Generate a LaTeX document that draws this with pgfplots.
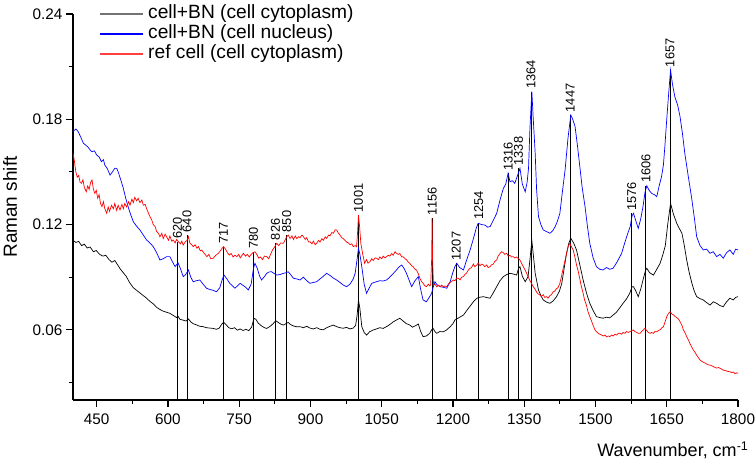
\documentclass[border=0pt]{standalone}
\usepackage{fontspec}
\setmainfont{Liberation Sans}
\usepackage{pgfplots}
\pgfplotsset{compat=1.18}
\begin{document}
\begin{tikzpicture}[x=1pt,y=1pt]
\path[use as bounding box] (-73,-62) rectangle (683,400);
\begin{axis}[
  at={(0,0)}, anchor=south west,
  scale only axis, width=665pt, height=386pt,
  xmin=400, xmax=1800, ymin=0.02, ymax=0.24,
  axis x line*=bottom, axis y line*=left,
  axis line style={-, line width=1.1pt},
  tick align=outside,
  major tick length=7pt, minor tick length=4pt,
  every tick/.style={black, line width=1.1pt},
  xtick={450,600,...,1800},
  minor xtick={525,675,...,1725},
  ytick={0.06,0.12,0.18,0.24},
  minor ytick={0.03,0.09,0.15,0.21},
  scaled y ticks=false,
  /pgf/number format/assume math mode=true,
  /pgf/number format/set thousands separator={},
  yticklabel style={/pgf/number format/.cd, fixed, fixed zerofill, precision=2},
  ticklabel style={font=\fontsize{15.3}{17}\selectfont},
  xticklabel style={yshift=-3pt},
  xlabel={Wavenumber, cm\textsuperscript{-1}},
  ylabel={Raman shift},
  every axis x label/.style={at={(axis description cs:1,0)}, anchor=east, xshift=14pt, yshift=-50pt, font=\fontsize{18}{20}\selectfont},
  every axis y label/.style={at={([xshift=-63pt]axis description cs:0,0.5)}, rotate=90, anchor=center, font=\fontsize{19}{22}\selectfont},
]
% drop lines with peak labels
\addplot[forget plot, black, line width=0.8pt, ycomb, mark=none,
  nodes near coords, point meta=explicit symbolic,
  every node near coord/.append style={rotate=90, anchor=west, inner sep=2.5pt, black, font=\fontsize{12.8}{15}\selectfont}]
coordinates {
(620,0.1102)[620] (640,0.1140)[640] (717,0.1074)[717] (780,0.1045)[780]
(826,0.1095)[826] (850,0.1140)[850] (1001,0.1254)[1001] (1156,0.1237)[1156]
(1207,0.0980)[1207] (1254,0.1210)[1254] (1316,0.1492)[1316] (1338,0.1521)[1338]
(1364,0.1957)[1364] (1447,0.1824)[1447] (1576,0.1264)[1576] (1606,0.1421)[1606]
(1657,0.2081)[1657]
};
% cell+BN (cell cytoplasm)
\addplot[forget plot, black, line width=0.7pt] table {
400 0.1110
406 0.1098
412 0.1104
418 0.1080
424 0.1088
430 0.1066
436 0.1072
443 0.1045
449 0.1052
456 0.1030
463 0.1020
469 0.1025
476 0.1000
482 0.0985
488 0.0995
494 0.0970
500 0.0945
506 0.0925
512 0.0905
519 0.0870
527 0.0840
534 0.0825
541 0.0810
548 0.0795
555 0.0780
562 0.0762
569 0.0748
576 0.0728
583 0.0716
590 0.0706
597 0.0700
604 0.0694
611 0.0682
618 0.0670
621 0.0678
625 0.0660
632 0.0655
638 0.0650
643 0.0662
648 0.0645
653 0.0635
660 0.0628
667 0.0620
674 0.0618
681 0.0612
688 0.0610
695 0.0608
702 0.0603
708 0.0610
713 0.0632
717 0.0643
722 0.0630
728 0.0612
734 0.0606
740 0.0612
746 0.0598
752 0.0605
758 0.0596
764 0.0603
770 0.0595
776 0.0615
781 0.0665
785 0.0660
790 0.0638
797 0.0622
803 0.0612
808 0.0608
815 0.0620
821 0.0634
827 0.0652
833 0.0640
838 0.0632
843 0.0627
849 0.0636
853 0.0642
858 0.0630
864 0.0622
870 0.0618
878 0.0618
885 0.0612
892 0.0620
899 0.0610
906 0.0605
913 0.0612
920 0.0603
927 0.0600
934 0.0612
941 0.0620
948 0.0627
955 0.0618
962 0.0612
969 0.0609
976 0.0614
983 0.0605
990 0.0610
995 0.0625
998 0.0680
1001 0.0770
1004 0.0720
1008 0.0618
1013 0.0585
1018 0.0570
1025 0.0590
1032 0.0599
1039 0.0605
1046 0.0612
1053 0.0608
1060 0.0618
1067 0.0630
1074 0.0645
1081 0.0656
1088 0.0666
1095 0.0650
1102 0.0635
1109 0.0627
1115 0.0615
1122 0.0625
1127 0.0633
1132 0.0590
1137 0.0561
1144 0.0565
1151 0.0580
1155 0.0600
1158 0.0609
1162 0.0590
1166 0.0580
1172 0.0590
1180 0.0589
1187 0.0600
1194 0.0618
1200 0.0635
1204 0.0656
1210 0.0665
1216 0.0675
1222 0.0684
1229 0.0710
1236 0.0735
1243 0.0760
1250 0.0780
1257 0.0786
1264 0.0789
1271 0.0784
1278 0.0780
1285 0.0812
1292 0.0846
1299 0.0880
1306 0.0903
1313 0.0915
1320 0.0922
1327 0.0918
1334 0.0912
1338 0.0950
1341 0.0960
1346 0.0905
1352 0.0874
1358 0.0903
1362 0.1000
1366 0.1108
1369 0.1030
1373 0.0922
1380 0.0827
1385 0.0795
1390 0.0770
1397 0.0758
1404 0.0751
1411 0.0765
1418 0.0789
1424 0.0820
1429 0.0865
1434 0.0950
1439 0.1036
1444 0.1095
1448 0.1122
1454 0.1095
1460 0.1055
1467 0.0970
1474 0.0884
1481 0.0810
1488 0.0751
1495 0.0710
1502 0.0675
1509 0.0670
1516 0.0666
1523 0.0672
1530 0.0668
1537 0.0684
1544 0.0700
1551 0.0725
1558 0.0751
1565 0.0775
1572 0.0808
1577 0.0846
1580 0.0846
1585 0.0820
1590 0.0789
1595 0.0830
1600 0.0884
1605 0.0935
1608 0.0951
1614 0.0925
1622 0.0912
1629 0.0945
1636 0.0979
1642 0.1030
1647 0.1080
1652 0.1200
1658 0.1321
1664 0.1260
1671 0.1207
1676 0.1180
1682 0.1150
1687 0.1080
1692 0.0998
1697 0.0930
1703 0.0865
1708 0.0820
1713 0.0789
1720 0.0778
1727 0.0770
1734 0.0755
1741 0.0741
1748 0.0760
1755 0.0751
1762 0.0738
1769 0.0732
1776 0.0760
1783 0.0780
1790 0.0770
1795 0.0785
1800 0.0789
};
% cell+BN (cell nucleus)
\addplot[forget plot, blue, line width=0.7pt] table {
400 0.1729
406 0.1745
411 0.1729
416 0.1700
422 0.1663
428 0.1650
432 0.1640
436 0.1625
440 0.1615
445 0.1620
450 0.1596
455 0.1585
460 0.1558
464 0.1570
467 0.1539
472 0.1520
478 0.1482
483 0.1500
488 0.1521
492 0.1520
495 0.1501
500 0.1460
506 0.1406
511 0.1350
516 0.1302
521 0.1260
527 0.1216
534 0.1190
541 0.1169
548 0.1140
555 0.1112
562 0.1095
569 0.1074
576 0.1040
583 0.0998
590 0.1005
597 0.1017
604 0.1017
609 0.0990
615 0.0960
621 0.0982
626 0.0950
632 0.0903
637 0.0915
643 0.0941
648 0.0900
653 0.0874
660 0.0880
667 0.0884
674 0.0860
681 0.0837
688 0.0830
695 0.0825
702 0.0817
709 0.0840
714 0.0885
718 0.0912
724 0.0890
730 0.0865
736 0.0850
741 0.0837
746 0.0850
752 0.0865
757 0.0855
762 0.0846
769 0.0827
775 0.0860
780 0.0950
783 0.0979
788 0.0950
793 0.0905
797 0.0884
802 0.0900
808 0.0922
813 0.0930
818 0.0931
824 0.0920
829 0.0912
836 0.0915
843 0.0922
848 0.0925
853 0.0931
858 0.0915
864 0.0894
871 0.0890
878 0.0884
885 0.0900
892 0.0880
899 0.0865
906 0.0870
913 0.0874
920 0.0890
927 0.0905
934 0.0922
941 0.0910
948 0.0895
955 0.0884
962 0.0870
969 0.0855
976 0.0846
983 0.0860
990 0.0890
994 0.0922
998 0.1000
1001 0.1065
1004 0.1030
1008 0.0960
1013 0.0860
1018 0.0808
1024 0.0840
1029 0.0865
1034 0.0870
1039 0.0874
1046 0.0880
1053 0.0878
1060 0.0884
1067 0.0900
1074 0.0920
1081 0.0941
1087 0.0960
1092 0.0969
1097 0.0950
1102 0.0922
1108 0.0880
1113 0.0846
1120 0.0880
1127 0.0903
1132 0.0830
1137 0.0770
1144 0.0760
1150 0.0785
1155 0.0808
1158 0.0840
1162 0.0874
1167 0.0855
1173 0.0846
1180 0.0842
1187 0.0837
1194 0.0874
1200 0.0930
1204 0.0960
1208 0.0979
1214 0.0955
1222 0.0941
1229 0.1000
1236 0.1055
1243 0.1120
1249 0.1180
1253 0.1207
1260 0.1200
1267 0.1197
1273 0.1185
1278 0.1188
1285 0.1225
1292 0.1264
1299 0.1340
1306 0.1406
1311 0.1430
1316 0.1492
1320 0.1444
1325 0.1450
1330 0.1435
1336 0.1480
1341 0.1521
1346 0.1430
1352 0.1387
1356 0.1440
1359 0.1520
1362 0.1750
1366 0.1957
1369 0.1800
1373 0.1606
1376 0.1400
1380 0.1245
1385 0.1200
1390 0.1169
1397 0.1160
1404 0.1150
1410 0.1165
1415 0.1188
1420 0.1220
1425 0.1264
1430 0.1380
1436 0.1511
1442 0.1690
1448 0.1824
1452 0.1800
1457 0.1758
1462 0.1650
1467 0.1530
1472 0.1410
1478 0.1302
1483 0.1190
1488 0.1093
1495 0.1010
1502 0.0960
1509 0.0945
1516 0.0941
1523 0.0955
1530 0.0945
1537 0.0951
1544 0.0980
1550 0.1010
1555 0.1036
1562 0.1100
1568 0.1150
1573 0.1188
1577 0.1250
1580 0.1264
1585 0.1220
1590 0.1178
1595 0.1230
1600 0.1302
1604 0.1380
1608 0.1421
1613 0.1395
1618 0.1378
1624 0.1370
1629 0.1359
1634 0.1420
1639 0.1473
1643 0.1540
1646 0.1644
1650 0.1800
1653 0.1910
1658 0.2081
1662 0.2000
1667 0.1929
1673 0.1880
1678 0.1815
1683 0.1720
1688 0.1606
1695 0.1480
1702 0.1359
1708 0.1240
1713 0.1131
1720 0.1080
1727 0.1055
1734 0.1060
1741 0.1036
1748 0.1045
1755 0.1017
1762 0.1030
1769 0.1008
1776 0.1040
1783 0.1055
1790 0.1030
1795 0.1060
1800 0.1055
};
% ref cell (cell cytoplasm)
\addplot[forget plot, red, line width=0.7pt] table {
400 0.1606
403 0.1560
406 0.1500
409 0.1470
412 0.1480
415 0.1440
418 0.1435
421 0.1455
424 0.1410
428 0.1387
431 0.1420
434 0.1400
437 0.1440
440 0.1454
443 0.1400
446 0.1378
449 0.1395
452 0.1350
455 0.1370
458 0.1320
461 0.1302
464 0.1330
467 0.1290
471 0.1264
474 0.1300
477 0.1275
481 0.1310
485 0.1290
488 0.1320
492 0.1280
495 0.1310
499 0.1283
503 0.1315
506 0.1290
509 0.1320
513 0.1300
517 0.1330
520 0.1310
524 0.1345
527 0.1325
530 0.1355
534 0.1335
537 0.1350
541 0.1325
545 0.1340
548 0.1310
552 0.1315
555 0.1290
558 0.1270
562 0.1245
566 0.1225
569 0.1200
573 0.1188
576 0.1160
580 0.1150
583 0.1130
587 0.1150
590 0.1120
594 0.1145
597 0.1131
601 0.1110
604 0.1135
608 0.1105
611 0.1112
615 0.1095
618 0.1115
622 0.1102
626 0.1090
629 0.1105
632 0.1083
636 0.1100
640 0.1110
643 0.1131
646 0.1095
650 0.1085
653 0.1074
657 0.1085
661 0.1065
664 0.1075
668 0.1050
671 0.1055
675 0.1040
678 0.1030
682 0.1017
686 0.1030
690 0.1005
695 0.1008
699 0.1020
703 0.1030
706 0.1036
710 0.1050
714 0.1065
717 0.1074
721 0.1060
725 0.1040
729 0.1026
733 0.1035
737 0.1015
741 0.1025
745 0.1017
749 0.1030
752 0.1010
756 0.1025
759 0.1036
763 0.1020
767 0.1030
771 0.1015
775 0.1030
779 0.1040
783 0.1045
787 0.1030
791 0.1008
795 0.1015
799 0.1000
803 0.1020
808 0.1017
812 0.1005
816 0.1030
820 0.1055
824 0.1070
829 0.1093
833 0.1080
837 0.1095
843 0.1093
846 0.1110
850 0.1130
853 0.1140
857 0.1121
861 0.1135
864 0.1115
868 0.1135
871 0.1120
875 0.1131
878 0.1125
882 0.1140
885 0.1131
889 0.1115
892 0.1125
896 0.1100
899 0.1102
903 0.1090
906 0.1105
910 0.1085
913 0.1093
917 0.1110
920 0.1100
924 0.1120
927 0.1110
931 0.1130
934 0.1121
938 0.1140
941 0.1135
945 0.1155
948 0.1150
952 0.1170
955 0.1169
959 0.1150
962 0.1140
966 0.1125
969 0.1120
972 0.1112
976 0.1100
980 0.1095
983 0.1085
987 0.1090
990 0.1074
994 0.1080
997 0.1074
999 0.1150
1001 0.1254
1003 0.1200
1006 0.1093
1010 0.1030
1014 0.0979
1018 0.1000
1021 0.0980
1025 0.0988
1029 0.1005
1032 0.0995
1036 0.1010
1039 0.1008
1043 0.1000
1046 0.1015
1050 0.1005
1053 0.1020
1057 0.1010
1060 0.1017
1064 0.1025
1067 0.1020
1071 0.1035
1074 0.1025
1078 0.1045
1081 0.1036
1085 0.1030
1088 0.1035
1092 0.1015
1095 0.1017
1099 0.1005
1102 0.1000
1106 0.0985
1109 0.0979
1113 0.0965
1116 0.0960
1120 0.0945
1123 0.0941
1127 0.0920
1130 0.0895
1134 0.0874
1137 0.0865
1141 0.0850
1144 0.0846
1148 0.0860
1151 0.0850
1153 0.0855
1155 0.1000
1156 0.1235
1157 0.1000
1159 0.0855
1162 0.0860
1166 0.0845
1169 0.0855
1173 0.0846
1176 0.0855
1180 0.0845
1183 0.0850
1187 0.0846
1190 0.0860
1194 0.0870
1197 0.0875
1201 0.0884
1204 0.0880
1208 0.0895
1211 0.0894
1215 0.0885
1218 0.0900
1222 0.0903
1225 0.0915
1229 0.0925
1232 0.0940
1236 0.0951
1239 0.0955
1243 0.0975
1246 0.0960
1250 0.0969
1253 0.0980
1257 0.0965
1260 0.0975
1264 0.0969
1267 0.0960
1271 0.0970
1274 0.0955
1278 0.0960
1281 0.0970
1285 0.0975
1288 0.0990
1292 0.0998
1295 0.1020
1299 0.1035
1302 0.1045
1306 0.1040
1309 0.1030
1313 0.1036
1316 0.1020
1320 0.1025
1323 0.1015
1327 0.1017
1330 0.1010
1334 0.1015
1338 0.1005
1341 0.0998
1345 0.0975
1348 0.0960
1352 0.0940
1355 0.0922
1358 0.0905
1362 0.0880
1365 0.0865
1369 0.0846
1372 0.0835
1376 0.0815
1379 0.0805
1383 0.0798
1386 0.0790
1390 0.0800
1393 0.0785
1397 0.0789
1400 0.0780
1404 0.0795
1407 0.0800
1411 0.0817
1414 0.0820
1418 0.0835
1421 0.0840
1425 0.0865
1428 0.0900
1432 0.0950
1436 0.0998
1440 0.1045
1443 0.1080
1446 0.1093
1449 0.1075
1453 0.1055
1457 0.1010
1460 0.0970
1463 0.0941
1467 0.0890
1470 0.0850
1474 0.0808
1477 0.0770
1481 0.0740
1484 0.0705
1488 0.0675
1491 0.0655
1495 0.0625
1499 0.0599
1502 0.0590
1506 0.0580
1509 0.0575
1513 0.0570
1516 0.0565
1520 0.0570
1523 0.0560
1527 0.0565
1530 0.0561
1534 0.0570
1537 0.0565
1541 0.0575
1544 0.0570
1548 0.0580
1551 0.0580
1555 0.0575
1558 0.0585
1562 0.0580
1565 0.0590
1569 0.0585
1572 0.0589
1576 0.0595
1580 0.0599
1583 0.0590
1587 0.0585
1590 0.0580
1594 0.0580
1597 0.0590
1601 0.0600
1604 0.0609
1608 0.0595
1611 0.0585
1615 0.0580
1618 0.0585
1622 0.0580
1625 0.0590
1629 0.0589
1632 0.0595
1636 0.0600
1639 0.0610
1643 0.0618
1647 0.0650
1650 0.0675
1654 0.0695
1657 0.0703
1661 0.0690
1664 0.0685
1668 0.0675
1671 0.0670
1675 0.0660
1678 0.0646
1682 0.0625
1685 0.0600
1689 0.0580
1692 0.0561
1696 0.0540
1699 0.0520
1703 0.0500
1706 0.0485
1710 0.0470
1713 0.0455
1717 0.0440
1720 0.0428
1724 0.0420
1727 0.0415
1731 0.0410
1734 0.0405
1738 0.0400
1741 0.0399
1745 0.0395
1748 0.0390
1752 0.0385
1755 0.0382
1759 0.0385
1762 0.0381
1766 0.0375
1769 0.0370
1773 0.0368
1776 0.0365
1780 0.0362
1783 0.0361
1787 0.0356
1790 0.0360
1794 0.0350
1797 0.0355
1800 0.0352
};
\end{axis}
% legend (axis south-west corner is at the origin)
\begin{scope}[font=\fontsize{19.2}{22}\selectfont]
\draw[black!55, line width=1.1pt] (27,386) -- (70,386);
\node[anchor=base west, inner sep=0pt] at (75,381.8) {cell+BN (cell cytoplasm)};
\draw[blue, line width=1.1pt] (27,366) -- (70,366);
\node[anchor=base west, inner sep=0pt] at (75,361.8) {cell+BN (cell nucleus)};
\draw[red!75, line width=1.1pt] (27,346) -- (70,346);
\node[anchor=base west, inner sep=0pt] at (75,341.8) {ref cell (cell cytoplasm)};
\end{scope}
\end{tikzpicture}
\end{document}
